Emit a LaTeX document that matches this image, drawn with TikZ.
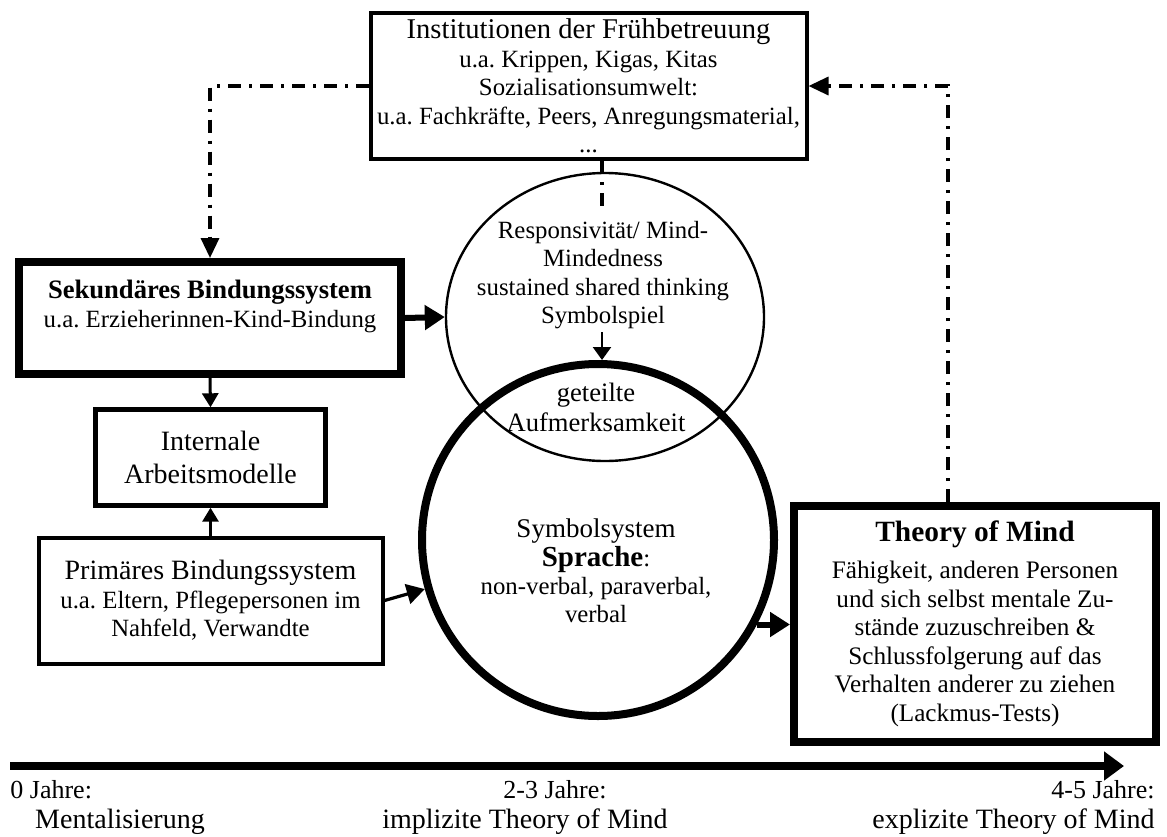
\documentclass[tikz,border=0pt]{standalone}
\usepackage{fontspec}
\setmainfont{Liberation Serif}
\usetikzlibrary{arrows.meta,shapes.geometric,calc}
\newcommand\bodyfnt{\fontsize{12.4}{14.2}\selectfont}
\frenchspacing
\begin{document}
\frenchspacing
\begin{tikzpicture}[x=0.5pt,y=-0.5pt,
  box/.style={draw, rectangle, align=center, inner sep=0pt},
  txt/.style={align=center, inner sep=0pt},
  thickarrow/.style={line width=3pt, -{Triangle[length=10pt,width=12pt]}},
  midarrow/.style={line width=1.5pt, -{Triangle[length=7pt,width=8pt]}},
  thinarrow/.style={line width=1.2pt, -{Triangle[length=6.5pt,width=9pt]}},
  primarrow/.style={line width=1.6pt, -{Triangle[length=9pt,width=10pt]}},
  dd/.style={line width=1.7pt, dash pattern=on 6.5pt off 4pt on 1.5pt off 4pt},
  ddarrow/.style={dd, -{Triangle[length=10pt,width=9pt]}},
  timeline/.style={line width=4pt, -{Triangle[length=10pt,width=14pt]}}]
\useasboundingbox (0,0) rectangle (1167,836);

% boxes
\node[box, line width=2pt, minimum width=218pt, minimum height=73pt, font=\bodyfnt] (inst) at (588.5,86)
  {{\fontsize{14.3}{14.2}\selectfont Institutionen der Frühbetreuung}\\u.a. Krippen, Kigas, Kitas\\Sozialisationsumwelt:\\u.a. Fachkräfte, Peers, Anregungsmaterial,\\...};
\node[box, line width=4pt, minimum width=191pt, minimum height=56pt, font=\bodyfnt] (sek) at (210,318)
  {{\bfseries\fontsize{13.3}{14.2}\selectfont Sekundäres Bindungssystem}\\u.a. Erzieherinnen-Kind-Bindung\\\mbox{}};
\node[box, line width=2.2pt, minimum width=115pt, minimum height=48pt, font=\fontsize{14}{16.5}\selectfont] (intern) at (210.5,457.5)
  {Internale\\Arbeitsmodelle};
\node[box, line width=2pt, minimum width=172pt, minimum height=63pt, font=\bodyfnt] (prim) at (210.5,600.5)
  {{\fontsize{14}{14.2}\selectfont Primäres Bindungssystem}\\u.a. Eltern, Pflegepersonen im\\Nahfeld, Verwandte};
\node[box, line width=4pt, minimum width=181pt, minimum height=118pt, font=\fontsize{12.6}{14.3}\selectfont] (tom) at (975,624)
  {{\bfseries\fontsize{14.7}{16}\selectfont Theory of Mind}\\[4pt]Fähigkeit, anderen Personen\\und sich selbst mentale Zu-\\stände zuzuschreiben \&\\Schlussfolgerung auf das\\Verhalten anderer zu ziehen\\(Lackmus-Tests)};

% circles
\node[draw, ellipse, line width=1.2pt, minimum width=159pt, minimum height=144pt, inner sep=0pt] (resp) at (605,317) {};
\node[txt, font=\bodyfnt] (resptext) at (603,275)
  {Responsivität/ Mind-\\Mindedness\\sustained shared thinking\\Symbolspiel};
\node[draw, circle, line width=4pt, minimum size=176pt, inner sep=0pt] (sym) at (598,540) {};
\node[txt, font=\fontsize{13.3}{15}\selectfont] (geteilt) at (596,407) {geteilte\\Aufmerksamkeit};
\node[txt, font=\bodyfnt] (symtext) at (596,571)
  {{\fontsize{13.5}{16}\selectfont Symbolsystem}\\{\bfseries\fontsize{14.5}{16}\selectfont Sprache}:\\non-verbal, paraverbal,\\verbal};

% connectors
\draw[thickarrow] (sek.east) -- (resp.west);
\coordinate (rs) at (602,332);
\draw[thinarrow] (rs) -- (rs |- sym.north);
\draw[midarrow] (sek.south) -- (intern.north);
\draw[midarrow] (prim.north) -- (intern.south);
\draw[primarrow] (prim.east) -- (sym);
\draw[thickarrow] (sym.-28) -- (sym.-28 -| tom.west);
\draw[ddarrow] (inst.west) -| (sek.north);
\coordinate (rc) at (948,86);
\draw[ddarrow] (tom.north -| rc) |- (inst.east);
\coordinate (dd1) at (602,213);
\draw[dd] (inst.south -| dd1) -- (dd1);

% timeline
\coordinate (t0) at (10,766);
\coordinate (t1) at (1124,766);
\draw[timeline] (t0) -- (t1);
\node[txt, anchor=west, font=\fontsize{13}{15}\selectfont] (l0a) at (10,790) {0 Jahre:};
\node[txt, font=\fontsize{14}{16}\selectfont] (l0b) at (120,822) {Mentalisierung};
\node[txt, font=\fontsize{13}{15}\selectfont] (l1a) at (555,790) {2-3 Jahre:};
\node[txt, font=\fontsize{14}{16}\selectfont] (l1b) at (525,822) {implizite Theory of Mind};
\node[txt, anchor=east, font=\fontsize{13}{15}\selectfont] (l2a) at (1155,790) {4-5 Jahre:};
\node[txt, anchor=east, font=\fontsize{14}{16}\selectfont] (l2b) at (1155,822) {explizite Theory of Mind};
\end{tikzpicture}
\end{document}
